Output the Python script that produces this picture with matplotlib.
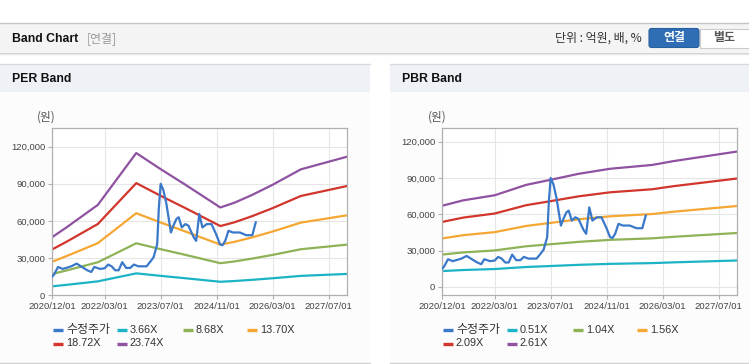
import matplotlib
matplotlib.use("Agg")
import matplotlib.pyplot as plt
import matplotlib.dates as mdates
from matplotlib.patches import Rectangle, FancyBboxPatch
from matplotlib.ticker import FuncFormatter
import pandas as pd

plt.rcParams['font.family'] = ['Liberation Sans', 'Noto Sans CJK KR']

# adjusted share price (수정주가), same series on both charts
price_dates = ["2020-12-01", "2020-12-15", "2021-01-20", "2021-03-01", "2021-04-01", "2021-05-15",
               "2021-07-01", "2021-08-15", "2021-10-01", "2021-11-05", "2021-12-01", "2022-01-20",
               "2022-03-01", "2022-04-01", "2022-05-01", "2022-06-01", "2022-07-01", "2022-08-01",
               "2022-09-05", "2022-10-10", "2022-11-10", "2022-12-20", "2023-03-01", "2023-04-05",
               "2023-05-01", "2023-06-01", "2023-06-15", "2023-07-01", "2023-07-25", "2023-08-20",
               "2023-09-10", "2023-09-28", "2023-10-20", "2023-11-15", "2023-12-05", "2024-01-01",
               "2024-02-01", "2024-02-28", "2024-03-25", "2024-04-15", "2024-05-05", "2024-06-01",
               "2024-06-28", "2024-08-05", "2024-09-15", "2024-10-25", "2024-11-28", "2024-12-20",
               "2025-01-12", "2025-02-10", "2025-03-20", "2025-05-20", "2025-07-15", "2025-09-05",
               "2025-10-05"]
price_values = [15300, 16600, 22900, 21300, 22100, 23400,
                25600, 22900, 20200, 18800, 22900, 21300,
                21800, 24800, 23400, 20200, 20200, 26700,
                22100, 22100, 24800, 23400, 23400, 27500,
                30800, 41200, 69800, 90000, 84800, 73900,
                61600, 50700, 56200, 61600, 63000, 54800,
                57500, 56200, 50700, 46600, 43900, 65700,
                54800, 57500, 57500, 49400, 41200, 40400,
                43900, 52100, 50700, 50700, 48500, 48500,
                58900]

# EPS used for the PER band
eps_dates = ["2020-12-01", "2021-04-01", "2022-01-01", "2022-12-01", "2023-07-01", "2024-02-01",
             "2024-12-01", "2025-04-01", "2025-09-01", "2026-03-01", "2026-11-01", "2027-12-01"]
eps_values = [1981, 2302, 3074, 4837, 4290, 3760, 2986, 3146, 3408, 3759, 4283, 4705]
per_multiples = [3.66, 8.68, 13.70, 18.72, 23.74]

# BPS used for the PBR band
bps_dates = ["2020-12-01", "2021-06-01", "2022-03-01", "2022-12-01", "2023-07-01", "2024-03-01",
             "2024-12-01", "2025-12-01", "2026-06-01", "2027-12-01"]
bps_values = [25700, 27400, 29000, 32300, 33900, 35800, 37400, 38600, 39800, 42800]
pbr_multiples = [0.51, 1.04, 1.56, 2.09, 2.61]

tick_dates = ["2020-12-01", "2022-03-01", "2023-07-01", "2024-11-01", "2026-03-01", "2027-07-01"]
y_ticks = [0, 30000, 60000, 90000, 120000]

price_color = "#3a78c9"
band_colors = ["#1db3c6", "#8db356", "#f5a733", "#d1352b", "#8e52a0"]
KR = ['Noto Sans CJK KR']

fig = plt.figure(figsize=(7.49, 3.64), dpi=100)

# page decoration in pixel coordinates
bg = fig.add_axes([0, 0, 1, 1], zorder=0)
bg.set_xlim(0, 749)
bg.set_ylim(364, 0)
bg.axis('off')

def box(x0, y0, x1, y1, fc, ec="none", lw=0):
    bg.add_patch(Rectangle((x0, y0), x1 - x0, y1 - y0, facecolor=fc, edgecolor=ec, linewidth=lw))

bg.plot([0, 749], [22.5, 22.5], color="#c4c4c4", lw=1)
box(0, 23, 749, 52, "#f4f4f4")
bg.plot([0, 749], [52.5, 52.5], color="#cfcfcf", lw=1)
bg.plot([0, 749], [53.5, 53.5], color="#e9e9e9", lw=1)
bg.text(12, 38.5, "Band Chart", fontsize=8.8, fontweight='bold', color="#111111", va='center')
bg.text(87, 38.5, "[연결]", fontsize=8.6, color="#9a9a9a", va='center', family=KR)
bg.text(642, 38.5, "단위 : 억원, 배, %", fontsize=8.6, color="#333333", va='center', ha='right',
        family=KR)
bg.add_patch(FancyBboxPatch((649, 28.5), 50, 19, boxstyle="round,pad=0,rounding_size=2.5",
                            facecolor="#2f6db5", edgecolor="#285f9f", lw=0.8))
bg.text(674, 38, "연결", fontsize=8.6, fontweight='bold', color="white", ha='center', va='center',
        family=KR)
bg.add_patch(Rectangle((699.5, 28.5), 50, 19, facecolor="white", edgecolor="#cccccc", lw=0.8))
bg.text(724, 38, "별도", fontsize=8.6, fontweight='bold', color="#555555", ha='center', va='center',
        family=KR)

for x0, x1, title in [(0, 370, "PER Band"), (390, 749, "PBR Band")]:
    box(x0, 64, x1, 92, "#eef2f7")
    box(x0, 92, x1, 362, "#fcfcfc")
    bg.plot([x0, x1], [63.5, 63.5], color="#dadada", lw=1)
    bg.plot([x0, x1], [362.5, 362.5], color="#cfcfcf", lw=1)
    bg.text(x0 + 12, 79, title, fontsize=8.8, fontweight='bold', color="#111111", va='center')

def band_chart(left, ylim, base_dates, base_values, multiples, labels, unit_x, legend_x):
    ax = fig.add_axes([left / 749, (364 - 295.3) / 364, 295 / 749, 167 / 364], zorder=2)
    ax.set_facecolor("white")
    d = pd.to_datetime(base_dates)
    for m, c in zip(multiples, band_colors):
        ax.plot(d, [v * m for v in base_values], color=c, lw=1.6, solid_joinstyle='round')
    ax.plot(pd.to_datetime(price_dates), price_values, color=price_color, lw=1.6, zorder=5)
    ax.set_xlim(pd.Timestamp("2020-12-01"), pd.Timestamp("2027-12-10"))
    ax.set_ylim(*ylim)
    ax.set_xticks(pd.to_datetime(tick_dates))
    ax.xaxis.set_major_formatter(mdates.DateFormatter('%Y/%m/%d'))
    ax.set_yticks(y_ticks)
    ax.yaxis.set_major_formatter(FuncFormatter(lambda v, p: f"{int(v):,}"))
    ax.grid(True, color="#e6e6e6", lw=0.8)
    ax.set_axisbelow(True)
    for s in ax.spines.values():
        s.set_color("#b0b0b0")
        s.set_linewidth(0.9)
    ax.tick_params(axis='both', length=3, width=0.8, color="#b0b0b0", labelsize=6.8,
                   labelcolor="#444444", pad=2)
    bg.text(unit_x, 117, "(원)", fontsize=8.4, color="#555555", ha='center', va='center',
            family=KR)
    names = ["수정주가"] + labels
    colors = [price_color] + band_colors
    for i, (n, c) in enumerate(zip(names, colors)):
        row, col = divmod(i, 4)
        x = legend_x[col]
        y = 330 + row * 13.5
        bg.plot([x, x + 10], [y, y], color=c, lw=2.4, solid_capstyle='butt')
        fs = 8.6 if i == 0 else 7.8
        bg.text(x + 13, y, n, fontsize=fs, color="#333333", va='center',
                family=['Liberation Sans', 'Noto Sans CJK KR'])
    return ax

band_chart(52.3, (0, 134800), eps_dates, eps_values, per_multiples,
           ["3.66X", "8.68X", "13.70X", "18.72X", "23.74X"], 46.5, [53, 117, 183, 247])
band_chart(442.3, (-6900, 131000), bps_dates, bps_values, pbr_multiples,
           ["0.51X", "1.04X", "1.56X", "2.09X", "2.61X"], 437.5, [443, 507, 573, 637])

fig.savefig("out.png", dpi=100)
